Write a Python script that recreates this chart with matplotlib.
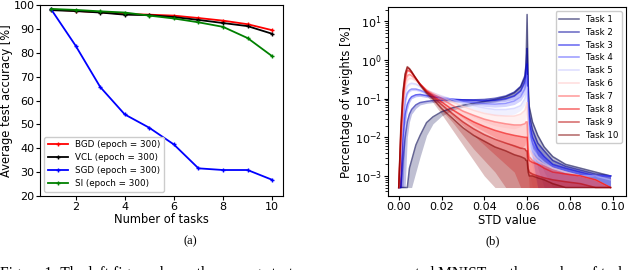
import numpy as np
import matplotlib
matplotlib.use("Agg")
import matplotlib.pyplot as plt

# ---- (a) average test accuracy vs. number of tasks ----
tasks = [1, 2, 3, 4, 5, 6, 7, 8, 9, 10]
bgd = [98.2, 97.6, 97.0, 96.3, 96.0, 95.6, 94.6, 93.5, 92.0, 89.5]
vcl = [97.9, 97.5, 96.9, 96.0, 95.8, 95.0, 93.8, 92.5, 91.2, 88.0]
sgd = [98.3, 83.0, 65.7, 54.2, 48.6, 41.6, 31.6, 30.9, 30.9, 26.8]
si = [98.4, 98.0, 97.4, 96.9, 95.6, 94.4, 92.8, 90.9, 86.2, 78.6]

# ---- (b) histogram of STD values, log10 of percentage (upper / lower edge of the noisy band) ----
F = -3.3  # floor of the histogram
std_x = [0.000, 0.001, 0.002, 0.003, 0.004, 0.005, 0.006, 0.008, 0.010, 0.013, 0.016,
         0.020, 0.025, 0.030, 0.035, 0.040, 0.045, 0.050, 0.054, 0.057, 0.059, 0.0595,
         0.0600, 0.0605, 0.061, 0.0625, 0.065, 0.068, 0.072, 0.078, 0.085, 0.092, 0.099]

top = [
    [F, F, F, F, F, -2.8, -2.6, -2.2, -1.95, -1.62, -1.47, -1.34, -1.24, -1.17, -1.12, -1.07, -1.02,
     -0.95, -0.85, -0.7, -0.45, -0.15, 1.18, -0.6, -1.2, -1.6, -1.95, -2.25, -2.5, -2.7, -2.8, -2.9, -3.0],
    [F, F, -2.6, -2.0, -1.6, -1.4, -1.28, -1.16, -1.1, -1.07, -1.05, -1.04, -1.03, -1.03, -1.03, -1.02, -0.99,
     -0.93, -0.83, -0.68, -0.4, -0.1, 0.3, -0.9, -1.4, -1.8, -2.15, -2.35, -2.6, -2.75, -2.85, -2.95, -3.0],
    [F, F, -2.0, -1.4, -1.15, -1.02, -0.95, -0.9, -0.89, -0.92, -0.95, -0.98, -1.01, -1.03, -1.04, -1.05, -1.04,
     -1.0, -0.93, -0.8, -0.55, -0.3, -0.1, -1.1, -1.6, -2.0, -2.3, -2.5, -2.7, -2.8, -2.9, -3.0, -3.0],
    [F, -2.6, -1.6, -1.05, -0.85, -0.78, -0.75, -0.75, -0.78, -0.85, -0.9, -0.96, -1.02, -1.07, -1.1, -1.13, -1.14,
     -1.12, -1.06, -0.95, -0.75, -0.55, -0.4, -1.3, -1.8, -2.15, -2.4, -2.55, -2.75, -2.85, -2.95, -3.0, -3.0],
    [F, -2.4, -1.4, -0.85, -0.67, -0.62, -0.6, -0.62, -0.68, -0.78, -0.85, -0.93, -1.02, -1.1, -1.18, -1.24, -1.28,
     -1.28, -1.25, -1.18, -1.0, -0.85, -0.7, -1.6, -2.0, -2.3, -2.5, -2.65, -2.8, -2.9, -3.0, -3.0, -3.1],
    [F, -2.2, -1.25, -0.7, -0.52, -0.47, -0.47, -0.53, -0.63, -0.77, -0.85, -0.95, -1.08, -1.2, -1.3, -1.38, -1.43,
     -1.45, -1.45, -1.4, -1.3, -1.2, -1.1, -2.0, -2.3, -2.45, -2.6, -2.7, -2.8, -2.9, -3.0, -3.1, F],
    [F, -2.1, -1.1, -0.55, -0.4, -0.37, -0.4, -0.5, -0.62, -0.78, -0.88, -1.0, -1.17, -1.32, -1.43, -1.53, -1.6,
     -1.65, -1.68, -1.68, -1.65, -1.6, -1.6, -2.3, -2.5, -2.6, -2.7, -2.75, -2.85, -2.95, -3.0, -3.1, F],
    [F, -1.9, -0.95, -0.45, -0.27, -0.28, -0.33, -0.47, -0.62, -0.8, -0.92, -1.08, -1.28, -1.45, -1.6, -1.72, -1.82,
     -1.9, -1.95, -1.98, -2.0, -2.0, -2.0, -2.5, -2.6, -2.65, -2.7, -2.8, -2.9, -2.95, -3.0, -3.1, F],
    [F, -1.8, -0.85, -0.38, -0.2, -0.23, -0.3, -0.47, -0.63, -0.82, -0.95, -1.15, -1.38, -1.6, -1.78, -1.93, -2.05,
     -2.15, -2.22, -2.28, -2.3, -2.35, -2.35, -2.8, -2.9, -2.95, -3.0, -3.05, -3.1, -3.15, -3.2, F, F],
    [F, -1.7, -0.8, -0.35, -0.17, -0.22, -0.3, -0.48, -0.65, -0.85, -1.0, -1.25, -1.5, -1.75, -1.95, -2.1, -2.25,
     -2.35, -2.45, -2.5, -2.55, -2.6, -2.6, -2.9, -3.0, -3.0, -3.05, -3.1, -3.2, F, F, F, F],
]
low = [
    [F, F, F, F, F, F, F, -2.9, -2.5, -1.95, -1.65, -1.45, -1.3, -1.22, -1.17, -1.12, -1.08,
     -1.02, -0.94, -0.8, -0.6, -0.3, -0.1, -0.9, -1.5, -2.0, -2.5, -2.9, F, F, F, F, F],
    [F, F, F, F, -2.0, -1.6, -1.4, -1.25, -1.16, -1.12, -1.1, -1.09, -1.08, -1.08, -1.08, -1.07, -1.05,
     -1.0, -0.92, -0.78, -0.55, -0.3, -0.1, -1.2, -1.8, -2.3, -2.8, F, F, F, F, F, F],
    [F, F, F, -1.7, -1.3, -1.1, -1.0, -0.95, -0.94, -0.97, -1.0, -1.03, -1.06, -1.08, -1.1, -1.11, -1.1,
     -1.07, -1.02, -0.9, -0.7, -0.5, -0.3, -1.4, -2.0, -2.5, F, F, F, F, F, F, F],
    [F, F, -2.1, -1.2, -0.9, -0.82, -0.79, -0.79, -0.82, -0.9, -0.95, -1.0, -1.07, -1.12, -1.16, -1.2, -1.22,
     -1.2, -1.15, -1.05, -0.87, -0.7, -0.6, -1.6, -2.2, -2.6, F, F, F, F, F, F, F],
    [F, F, -1.9, -1.0, -0.72, -0.66, -0.63, -0.65, -0.72, -0.82, -0.9, -0.98, -1.08, -1.18, -1.27, -1.35, -1.42,
     -1.43, -1.4, -1.3, -1.15, -1.0, -0.9, -1.9, -2.4, -2.8, F, F, F, F, F, F, F],
    [F, F, -1.6, -0.8, -0.56, -0.5, -0.5, -0.56, -0.67, -0.82, -0.92, -1.03, -1.18, -1.35, -1.48, -1.6, -1.7,
     -1.75, -1.78, -1.72, -1.6, -1.45, -1.3, -2.5, -2.9, F, F, F, F, F, F, F, F],
    [F, F, -1.5, -0.65, -0.45, -0.4, -0.43, -0.53, -0.66, -0.82, -0.95, -1.1, -1.3, -1.5, -1.7, -1.85, -2.0,
     -2.15, -2.25, -2.3, -2.2, -2.0, -2.0, -2.9, F, F, F, F, F, F, F, F, F],
    [F, F, -1.4, -0.55, -0.3, -0.31, -0.36, -0.5, -0.66, -0.85, -1.0, -1.2, -1.45, -1.7, -1.95, -2.2, -2.45,
     -2.7, -2.9, F, F, F, F, F, F, F, F, F, F, F, F, F, F],
    [F, F, -1.3, -0.48, -0.23, -0.26, -0.33, -0.5, -0.68, -0.88, -1.05, -1.3, -1.6, -1.95, -2.3, -2.6, -2.9,
     F, F, F, F, F, F, F, F, F, F, F, F, F, F, F, F],
    [F, F, -1.2, -0.45, -0.2, -0.25, -0.33, -0.52, -0.7, -0.92, -1.1, -1.4, -1.8, -2.2, -2.6, -3.0, F,
     F, F, F, F, F, F, F, F, F, F, F, F, F, F, F, F],
]
task_labels = ['Task %d' % (i + 1) for i in range(10)]

plt.rcParams['font.family'] = ['DejaVu Sans']

fig = plt.figure(figsize=(6.4, 2.7), dpi=100)

# left panel
ax1 = fig.add_axes([0.0625, 0.274, 0.380, 0.707])
ax1.plot(tasks, bgd, color='red', marker='+', ms=3, lw=1.3, label='BGD (epoch = 300)')
ax1.plot(tasks, vcl, color='black', marker='+', ms=3, lw=1.3, label='VCL (epoch = 300)')
ax1.plot(tasks, sgd, color='blue', marker='+', ms=3, lw=1.3, label='SGD (epoch = 300)')
ax1.plot(tasks, si, color='green', marker='+', ms=3, lw=1.3, label='SI (epoch = 300)')
ax1.set_ylim(20, 100)
ax1.set_yticks(range(20, 101, 10))
ax1.set_xticks([2, 4, 6, 8, 10])
ax1.set_xlabel('Number of tasks', fontsize=8.3, labelpad=1)
ax1.set_ylabel('Average test accuracy [%]', fontsize=8.3, labelpad=0.5)
ax1.tick_params(labelsize=8, pad=1, length=3)
ax1.legend(loc='lower left', fontsize=6.3, handlelength=2.3, labelspacing=0.45,
           borderpad=0.4, framealpha=1)

# right panel
ax2 = fig.add_axes([0.606, 0.274, 0.372, 0.700])
cmap = plt.get_cmap('seismic')
xs = np.array(std_x)
for i in range(10):
    c = cmap(i / 9)
    hi = 10 ** np.array(top[i])
    lo = 10 ** np.array(low[i])
    ax2.fill_between(xs, lo, hi, color=c, alpha=0.25, lw=0)
    ax2.plot(xs, hi, color=c, alpha=0.6, lw=1.1, label=task_labels[i])
ax2.set_yscale('log')
ax2.set_xlim(-0.0051, 0.1062)
ax2.set_ylim(10 ** -3.52, 10 ** 1.373)
ax2.set_xticks([0.0, 0.02, 0.04, 0.06, 0.08, 0.10])
ax2.set_xticklabels(['0.00', '0.02', '0.04', '0.06', '0.08', '0.10'])
ax2.set_xlabel('STD value', fontsize=8.3, labelpad=1)
ax2.set_ylabel('Percentage of weights [%]', fontsize=8.3, labelpad=1)
ax2.tick_params(labelsize=8, pad=1.5, length=3)
ax2.legend(loc='upper right', fontsize=6.2, handlelength=2.3, labelspacing=0.45,
           borderpad=0.4, framealpha=1)

# captions
fig.text(190 / 640, 1 - 241 / 270, '(a)', family='Liberation Serif', fontsize=9,
         ha='center', va='center')
fig.text(493 / 640, 1 - 241 / 270, '(b)', family='Liberation Serif', fontsize=9,
         ha='center', va='center')
fig.text(0.0, 1 - 265.5 / 270,
         'Figure 1: The left figure shows the average test accuracy on permuted MNIST, as the number of tasks',
         family='Liberation Serif', fontsize=11.2, ha='left', va='top')

fig.savefig('out.png', dpi=100)
